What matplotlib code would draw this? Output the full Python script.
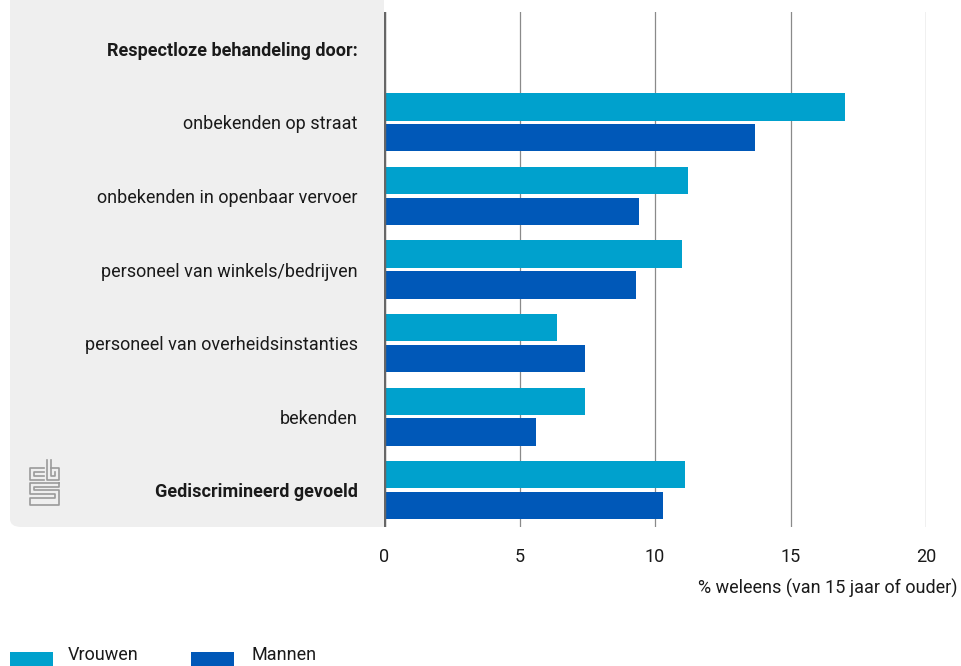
import matplotlib
matplotlib.use("Agg")
import matplotlib.pyplot as plt
from matplotlib.patches import FancyBboxPatch, Rectangle

categories = ["Respectloze behandeling door:", "onbekenden op straat",
              "onbekenden in openbaar vervoer", "personeel van winkels/bedrijven",
              "personeel van overheidsinstanties", "bekenden", "Gediscrimineerd gevoeld"]
bold_rows = [0, 6]
vrouwen = [None, 17.0, 11.2, 11.0, 6.4, 7.4, 11.1]
mannen = [None, 13.7, 9.4, 9.3, 7.4, 5.6, 10.3]
series_names = ["Vrouwen", "Mannen"]
xticks = [0, 5, 10, 15, 20]
xlabel = "% weleens (van 15 jaar of ouder)"

c_v = "#00a1cd"
c_m = "#0058b8"
txt = "#1a1a1a"
FS = 13

plt.rcParams["font.family"] = ["Roboto", "DejaVu Sans"]

W, H = 961, 666
fig = plt.figure(figsize=(W / 100, H / 100), dpi=100)

def fx(px): return px / W
def fy(py): return 1 - py / H

bg = "#efefef"
fig.patches.append(FancyBboxPatch((fx(10), fy(527)), fx(384) - fx(10), fy(12) - fy(527),
                                  boxstyle="round,pad=0,rounding_size=0.012",
                                  transform=fig.transFigure, facecolor=bg,
                                  edgecolor="none", zorder=0))
fig.patches.append(Rectangle((fx(200), fy(527)), fx(384) - fx(200), fy(12) - fy(527),
                             transform=fig.transFigure, facecolor=bg,
                             edgecolor="none", zorder=0))
fig.patches.append(Rectangle((fx(10), fy(100)), fx(384) - fx(10), fy(0) - fy(100),
                             transform=fig.transFigure, facecolor=bg,
                             edgecolor="none", zorder=0))

ax = fig.add_axes([fx(384), fy(527), fx(926) - fx(384), fy(12) - fy(527)])
ax.set_zorder(2)
ax.set_facecolor("none")
ax.set_xlim(0, 20)
ax.set_ylim(6.5, -0.5)

bh = 0.37
off = 0.21
for i in range(len(categories)):
    if vrouwen[i] is not None:
        ax.barh(i - off, vrouwen[i], height=bh, color=c_v, zorder=3)
    if mannen[i] is not None:
        ax.barh(i + off, mannen[i], height=bh, color=c_m, zorder=3)

for x in xticks[1:]:
    ax.axvline(x, color="#8a8a8a", lw=0.9, zorder=1)
ax.axvline(0, color="#666666", lw=2.5, zorder=4)

for s in ax.spines.values():
    s.set_visible(False)
ax.set_xticks(xticks)
ax.set_xticklabels([str(t) for t in xticks], fontsize=FS, color=txt)
ax.tick_params(axis="x", length=0, pad=15)
ax.set_yticks(range(len(categories)))
ax.set_yticklabels(categories, fontsize=FS, color=txt)
for i, lab in enumerate(ax.get_yticklabels()):
    if i in bold_rows:
        lab.set_fontweight("bold")
ax.tick_params(axis="y", length=0, pad=19)

fig.text(fx(957), fy(588), xlabel, ha="right", va="center", fontsize=FS, color=txt)

# legend
fig.patches.append(Rectangle((fx(10), fy(666)), fx(53) - fx(10), fy(652) - fy(666),
                             transform=fig.transFigure, facecolor=c_v, edgecolor="none"))
fig.patches.append(Rectangle((fx(191), fy(666)), fx(234) - fx(191), fy(652) - fy(666),
                             transform=fig.transFigure, facecolor=c_m, edgecolor="none"))
fig.text(fx(68), fy(664), series_names[0], ha="left", va="bottom", fontsize=FS, color=txt)
fig.text(fx(251), fy(664), series_names[1], ha="left", va="bottom", fontsize=FS, color=txt)

# cbs logo (simplified line drawing)
lc = "#9a9a9a"
def seg(xs, ys):
    fig.add_artist(plt.Line2D([fx(x) for x in xs], [fy(y) for y in ys],
                              transform=fig.transFigure, color=lc, lw=1.2))
seg([44, 30, 30, 44], [468, 468, 480, 480])
seg([44, 34, 34, 44], [472, 472, 476, 476])
seg([47, 47, 59, 59, 51], [460, 480, 480, 468, 468])
seg([51, 51, 55, 55], [460, 476, 476, 472])
seg([59, 30, 30, 55, 55, 30, 30, 59, 59, 34, 34, 59, 59],
    [483, 483, 494, 494, 498, 498, 505, 505, 490, 490, 487, 487, 483])

fig.savefig("out.png", dpi=100)
